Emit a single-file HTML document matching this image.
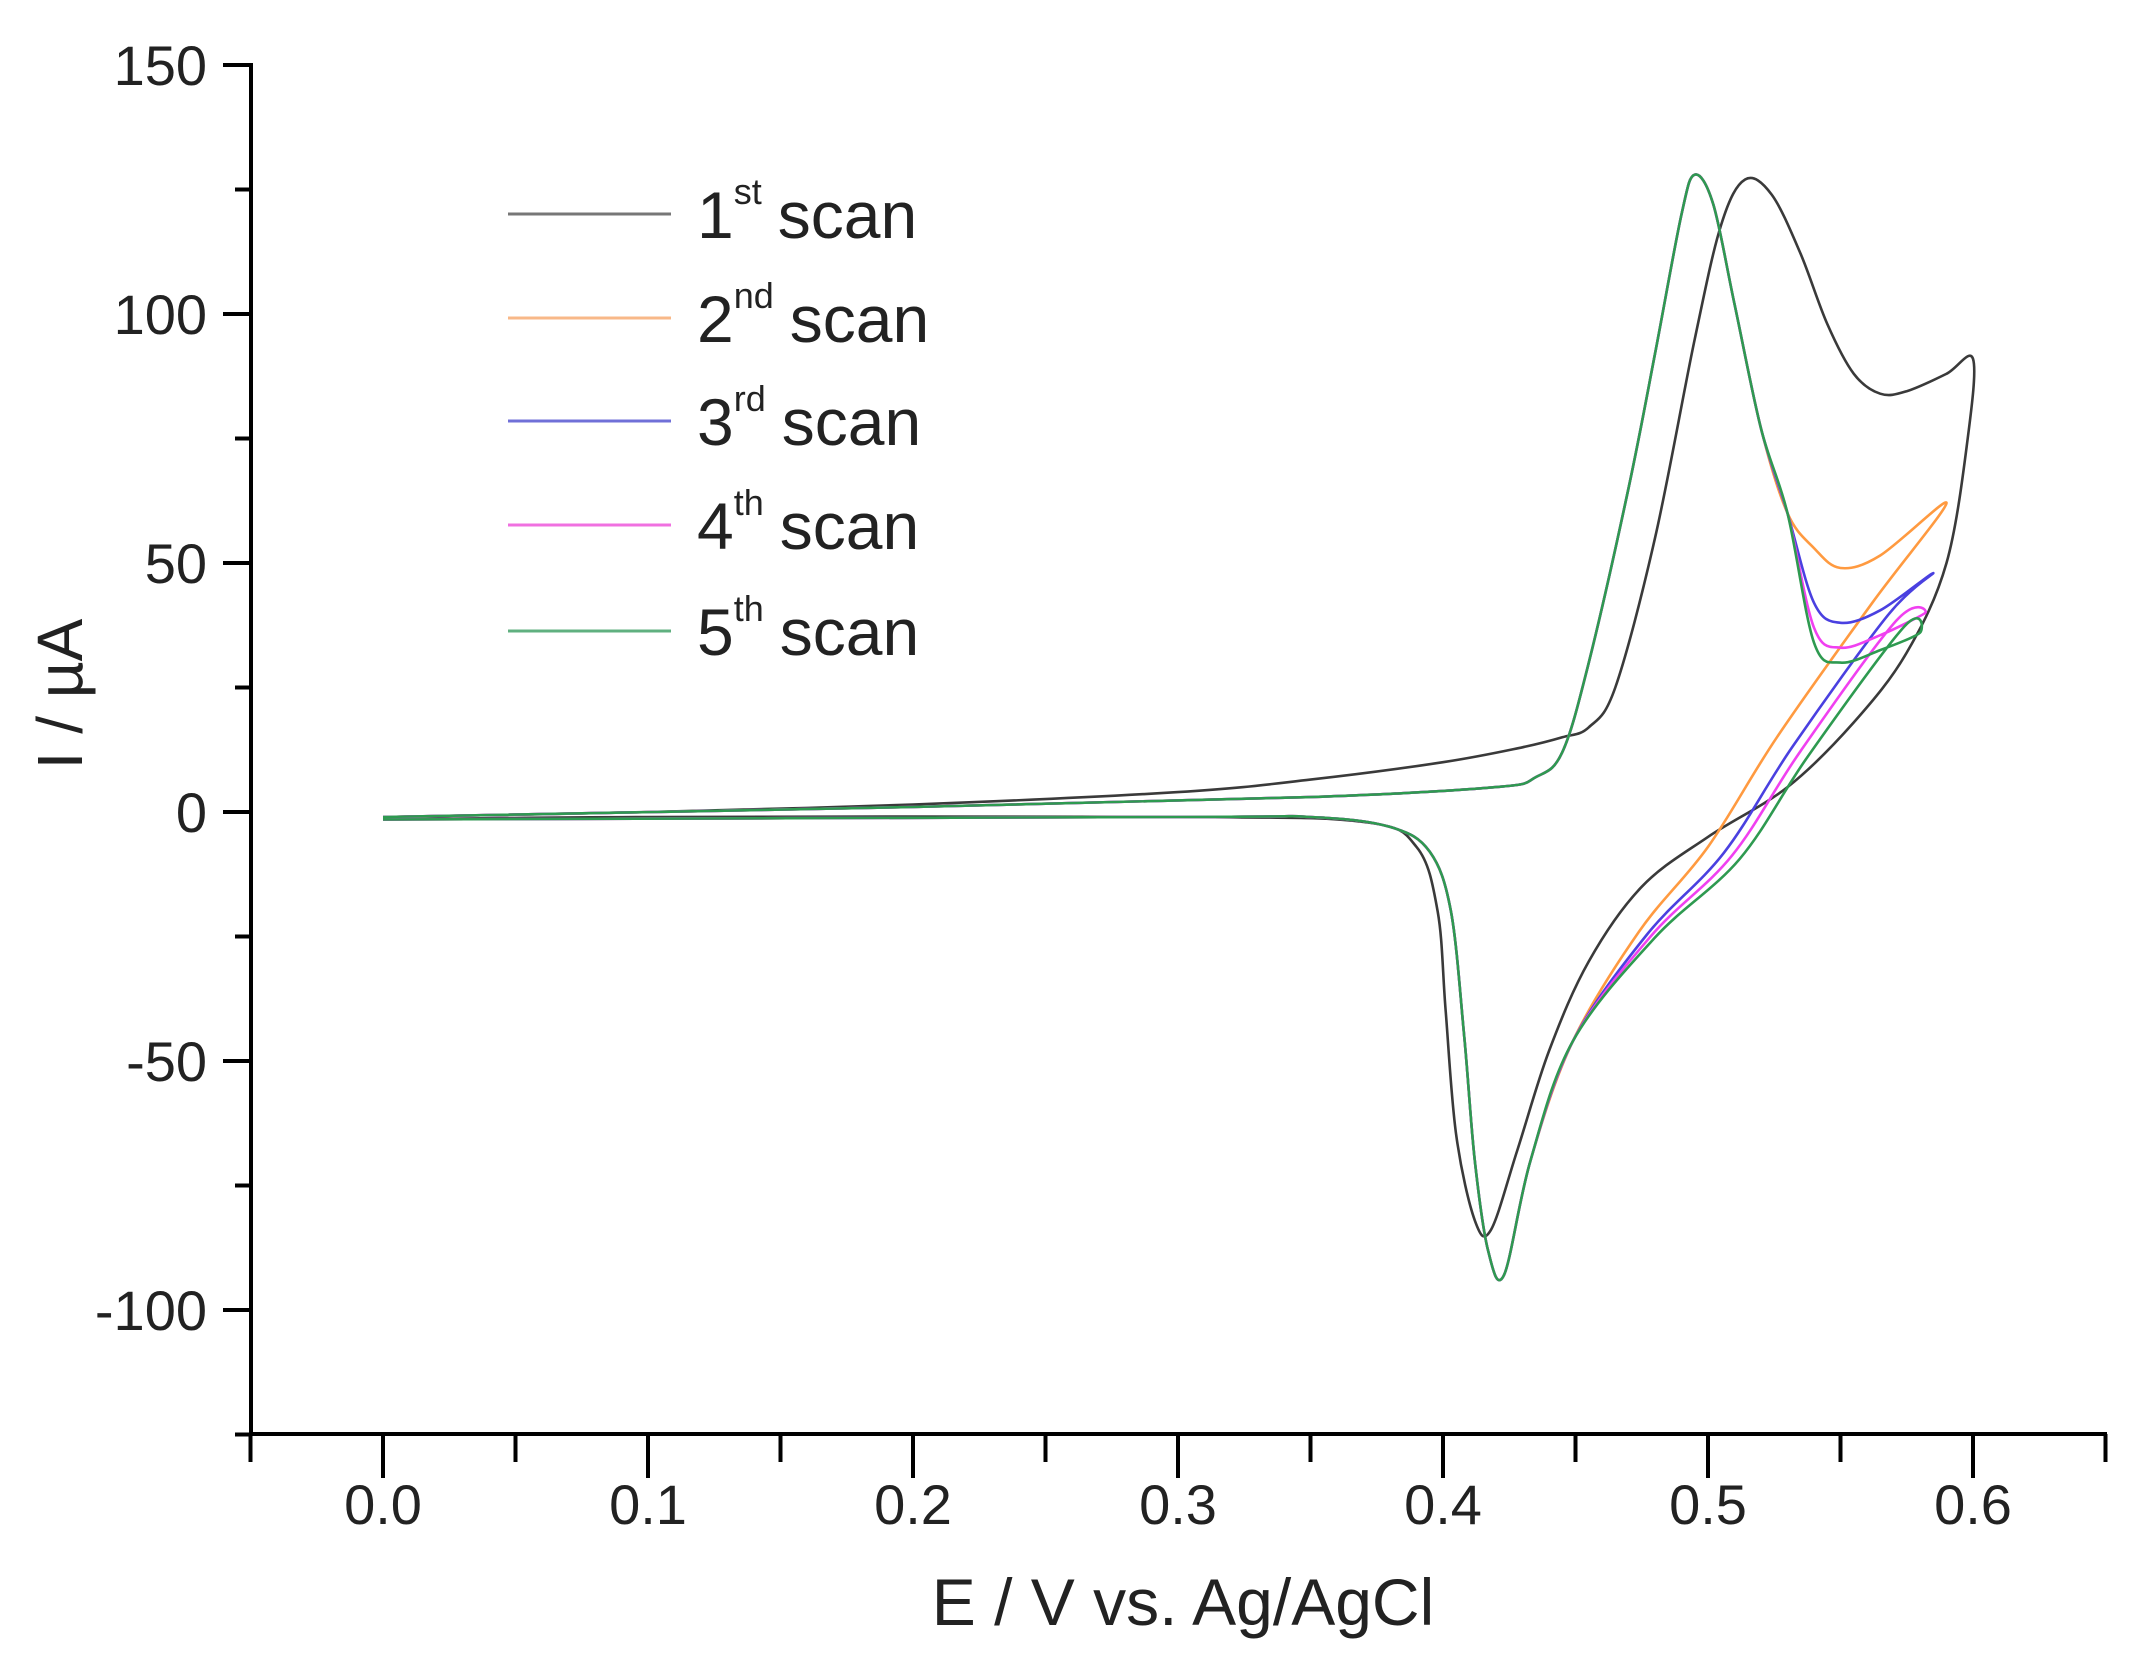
<!DOCTYPE html>
<html><head><meta charset="utf-8"><style>
html,body{margin:0;padding:0;background:#fff;}
svg{display:block;font-family:"Liberation Sans",Arial,sans-serif;}
</style></head><body>
<svg id="s" width="2145" height="1671" viewBox="0 0 2145 1671" xmlns="http://www.w3.org/2000/svg">
<rect width="2145" height="1671" fill="#fff"/>
<g stroke="#000" stroke-width="4" fill="none">
<line x1="251" y1="63" x2="251" y2="1436"/>
<line x1="249" y1="1434" x2="2107" y2="1434"/>
</g>
<g id="ticks" stroke="#000" stroke-width="4"></g>
<g id="labels" font-size="56" fill="#222"></g>
<text x="82" y="694" font-size="64" fill="#222" text-anchor="middle" transform="rotate(-90 82 694)">I / µA</text>
<text x="1183" y="1625" font-size="66" fill="#222" text-anchor="middle">E / V vs. Ag/AgCl</text>
<g id="curves" fill="none" stroke-width="2.6" stroke-linejoin="round"></g>
<g id="legend"></g>
</svg>
<script>
var NS="http://www.w3.org/2000/svg";
function X(e){return 383+e*2650;}
function Y(i){return 812-i*4.98;}
function el(t,a,p,txt){var e=document.createElementNS(NS,t);for(var k in a)e.setAttribute(k,a[k]);if(txt!=null)e.textContent=txt;p.appendChild(e);return e;}
var tk=document.getElementById('ticks'),lb=document.getElementById('labels');
for(var v=-125;v<=150;v+=25){var y=Y(v);var maj=(v%50==0);el('line',{x1:maj?223:235,y1:y,x2:251,y2:y},tk);
 if(maj)el('text',{x:207,y:y+20,'text-anchor':'end'},lb,v==0?'0':String(v));}
for(var k=-1;k<=13;k++){var e=k*0.05;var x=X(e);var maj=(k%2==0);el('line',{x1:x,y1:1434,x2:x,y2:maj?1478:1462},tk);
 if(maj&&k>=0)el('text',{x:x,y:1524,'text-anchor':'middle'},lb,e.toFixed(1));}
function path(pts){var p=pts.map(function(q){return [X(q[0]),Y(q[1])];});
 var d='M'+p[0][0].toFixed(1)+','+p[0][1].toFixed(1);
 for(var i=0;i<p.length-1;i++){var p0=p[Math.max(i-1,0)],p1=p[i],p2=p[i+1],p3=p[Math.min(i+2,p.length-1)];
  var c1=[p1[0]+(p2[0]-p0[0])/6,p1[1]+(p2[1]-p0[1])/6],c2=[p2[0]-(p3[0]-p1[0])/6,p2[1]-(p3[1]-p1[1])/6];
  d+=' C'+c1[0].toFixed(1)+','+c1[1].toFixed(1)+' '+c2[0].toFixed(1)+','+c2[1].toFixed(1)+' '+p2[0].toFixed(1)+','+p2[1].toFixed(1);}
 return d;}
function scan(mn,vx,vy,d){
 var f=[[0,-1],[0.2,1],[0.35,3],[0.42,5],[0.435,7],[0.445,12],[0.455,30],[0.47,65],[0.48,92],[0.49,120],[0.495,128],[0.502,122],[0.51,102],[0.52,77],[0.53,60],[0.54,mn+4],[0.55,mn],[0.565,mn+2.5]];
 var r=[[0.562+d,42-d*400],[0.526+d,15-d*300],[0.5+d,-7-d*200],[0.474+d/2,-24-d*100],[0.449,-46],[0.433,-70],[0.423,-93],[0.417,-88],[0.412,-70],[0.408,-45],[0.403,-20],[0.395,-8],[0.38,-3],[0.35,-1],[0.3,-1],[0,-1.5]];
 return f.concat([[vx,vy]]).concat(r);}
var black=[[0,-1],[0.1,0],[0.2,1.5],[0.3,4],[0.35,6.5],[0.4,10],[0.43,13],[0.445,15],[0.455,17],[0.465,25],[0.48,55],[0.495,95],[0.505,118],[0.514,127],[0.524,124],[0.535,112],[0.545,98],[0.555,88],[0.565,84],[0.575,84.5],[0.59,88],[0.6,91],[0.598,75],[0.59,50],[0.575,32],[0.555,18],[0.53,5],[0.5,-5],[0.475,-15],[0.455,-30],[0.44,-48],[0.428,-68],[0.418,-84],[0.412,-82],[0.405,-65],[0.401,-40],[0.398,-20],[0.39,-7],[0.37,-2],[0.3,-1],[0.1,-1],[0,-1.5]];
var cv=document.getElementById('curves');
var series=[
 ['#3a3a3a',black],
 ['#ff9a40',scan(49,0.59,62,0)],
 ['#4a40e0',scan(38,0.585,48,0.006)],
 ['#f040f0',scan(33,0.582,40,0.009)],
 ['#2e9a50',scan(30,0.58,36,0.012)]];
series.forEach(function(s){el('path',{d:path(s[1]),stroke:s[0]},cv);});
var lg=document.getElementById('legend');
var names=[['1','st'],['2','nd'],['3','rd'],['4','th'],['5','th']];
var lys=[214,318,421,525,631];
var lc=['#777','#f8b888','#7070d8','#f070e0','#60b080'];
for(var i=0;i<5;i++){var y=lys[i];
 el('line',{x1:508,y1:y,x2:671,y2:y,stroke:lc[i],'stroke-width':3},lg);
 var t=el('text',{x:697,y:y+24,'font-size':66,fill:'#222'},lg);
 el('tspan',{},t,names[i][0]);
 el('tspan',{'font-size':36,dy:-34},t,names[i][1]);
 el('tspan',{dy:34,dx:16},t,'scan');}
</script>
</body></html>
